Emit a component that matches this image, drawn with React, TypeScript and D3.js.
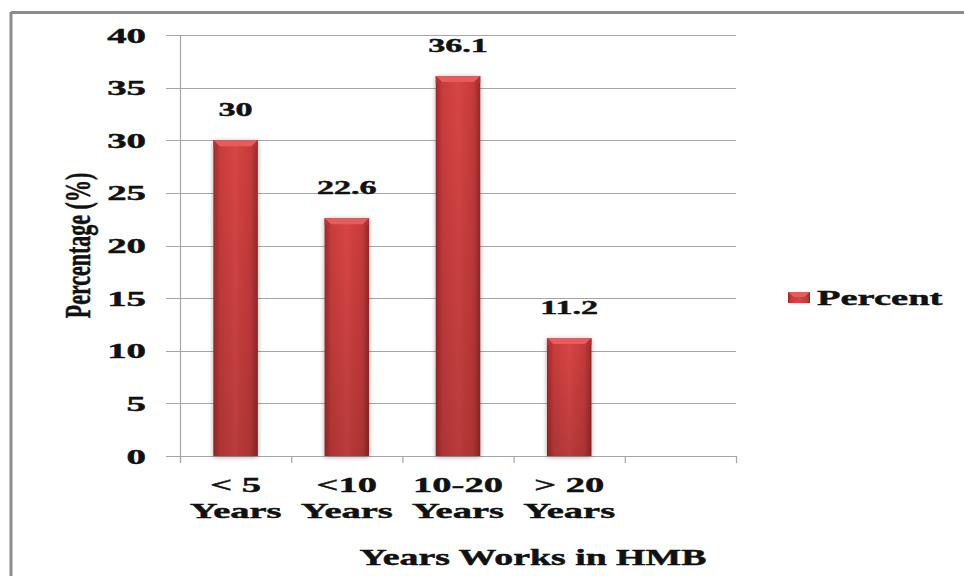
import * as d3 from "d3";

const categoryTop = ["< 5", "<10", "10-20", "> 20"];
const categoryBottom = ["Years", "Years", "Years", "Years"];
const percent = [30, 22.6, 36.1, 11.2];
const valueLabels = ["30", "22.6", "36.1", "11.2"];
const yTicks = [0, 5, 10, 15, 20, 25, 30, 35, 40];
const slotCount = 5; // the chart keeps an empty fifth category slot

const WIDTH = 964;
const HEIGHT = 576;
const PLOT = { left: 180, right: 736, top: 35, bottom: 456 };
const SX = 1.75; // the picture is stretched sideways
const FONT = "'Liberation Serif', 'Times New Roman', serif";
const GRID = "#a6a6a6";

function Stretch({ x, y, size, anchor = "middle", children, sx = SX }: { x: number; y: number; size: number; anchor?: "start" | "middle" | "end"; children: React.ReactNode; sx?: number }) {
  return (
    <text
      transform={`translate(${x} ${y}) scale(${sx} 1)`}
      fontFamily={FONT}
      fontWeight="700"
      fontSize={size}
      textAnchor={anchor}
      fill="#111"
      stroke="#111"
      strokeWidth="0.45"
    >
      {children}
    </text>
  );
}

export default function App() {
  const x = d3.scaleBand<number>().domain(d3.range(slotCount)).range([PLOT.left, PLOT.right]).padding(0);
  const y = d3.scaleLinear().domain([0, 40]).range([PLOT.bottom, PLOT.top]);
  const bw = x.bandwidth() * 0.4;

  return (
    <svg width={WIDTH} height={HEIGHT} style={{ position: "absolute", left: 0, top: 0, background: "#fff" }}>
      <defs>
        <linearGradient id="barFill" x1="0" x2="1" y1="0" y2="0">
          <stop offset="0" stopColor="#9c2a2a" />
          <stop offset="0.15" stopColor="#c83c3c" />
          <stop offset="0.5" stopColor="#d84545" />
          <stop offset="0.85" stopColor="#c43a3a" />
          <stop offset="1" stopColor="#962828" />
        </linearGradient>
        <linearGradient id="barShade" x1="0" x2="0" y1="0" y2="1">
          <stop offset="0" stopColor="#000" stopOpacity="0" />
          <stop offset="1" stopColor="#000" stopOpacity="0.14" />
        </linearGradient>
        <filter id="shadow" x="-30%" y="-10%" width="160%" height="120%">
          <feGaussianBlur in="SourceAlpha" stdDeviation="2.5" />
          <feOffset dx="0" dy="1" />
          <feComponentTransfer>
            <feFuncA type="linear" slope="0.35" />
          </feComponentTransfer>
          <feMerge>
            <feMergeNode />
            <feMergeNode in="SourceGraphic" />
          </feMerge>
        </filter>
      </defs>

      {/* outer frame */}
      <line x1={11} y1={12.5} x2={WIDTH} y2={12.5} stroke="#8c8c8c" strokeWidth="3" />
      <line x1={11} y1={12} x2={11} y2={HEIGHT} stroke="#8c8c8c" strokeWidth="3" />

      {/* gridlines + y ticks */}
      {yTicks.map((t) => (
        <g key={t}>
          <line x1={166} x2={PLOT.right} y1={Math.round(y(t)) + 0.5} y2={Math.round(y(t)) + 0.5} stroke={GRID} strokeWidth="1.2" />
          <Stretch x={146} y={y(t) + 7.5} size={21} anchor="end" sx={1.85}>
            {t}
          </Stretch>
        </g>
      ))}
      <line x1={PLOT.left + 0.5} x2={PLOT.left + 0.5} y1={PLOT.top} y2={PLOT.bottom + 6} stroke={GRID} strokeWidth="1.2" />
      {d3.range(slotCount + 1).map((i) => {
        const tx = i < slotCount ? (x(i) as number) : PLOT.right;
        return <line key={i} x1={tx + 0.5} x2={tx + 0.5} y1={PLOT.bottom} y2={PLOT.bottom + 7} stroke={GRID} strokeWidth="1.2" />;
      })}

      {/* bars */}
      {percent.map((v, i) => {
        const x0 = (x(i) as number) + (x.bandwidth() - bw) / 2;
        const x1 = x0 + bw;
        const y0 = y(v);
        const bev = 6;
        return (
          <g key={i}>
            <rect x={x0} y={y0} width={bw} height={PLOT.bottom - y0} fill="url(#barFill)" filter="url(#shadow)" />
            <rect x={x0} y={y0} width={bw} height={PLOT.bottom - y0} fill="url(#barShade)" />
            <polygon points={`${x0},${y0} ${x1},${y0} ${x1 - bev},${y0 + bev} ${x0 + bev},${y0 + bev}`} fill="#e65c5c" />
            <polygon points={`${x0},${y0} ${x0 + bev},${y0 + bev} ${x0},${y0 + bev + 1}`} fill="#b83434" />
            <polygon points={`${x1},${y0} ${x1 - bev},${y0 + bev} ${x1},${y0 + bev + 1}`} fill="#b03232" />
            <Stretch x={x0 + bw / 2} y={y0 - 24} size={19.5}>
              {valueLabels[i]}
            </Stretch>
          </g>
        );
      })}

      {/* category labels */}
      {categoryTop.map((c, i) => (
        <g key={c}>
          <Stretch x={(x(i) as number) + x.bandwidth() / 2} y={492} size={22}>
            {c}
          </Stretch>
          <Stretch x={(x(i) as number) + x.bandwidth() / 2} y={518} size={22}>
            {categoryBottom[i]}
          </Stretch>
        </g>
      ))}

      {/* axis titles */}
      <Stretch x={533} y={565} size={22.5} sx={1.68}>
        Years Works in HMB
      </Stretch>
      <text
        transform={`translate(90 245.5) rotate(-90) scale(1.1 1.75)`}
        fontFamily={FONT}
        fontWeight="700"
        fontSize={20}
        textAnchor="middle"
        fill="#111"
        stroke="#111"
        strokeWidth="0.3"
      >
        Percentage (%)
      </text>

      {/* legend */}
      <rect x={788} y={292} width={22} height={11} fill="url(#barFill)" />
      <polygon points="788,292 810,292 804,297 794,297" fill="#e65c5c" />
      <Stretch x={817} y={305} size={22} anchor="start">
        Percent
      </Stretch>
    </svg>
  );
}
